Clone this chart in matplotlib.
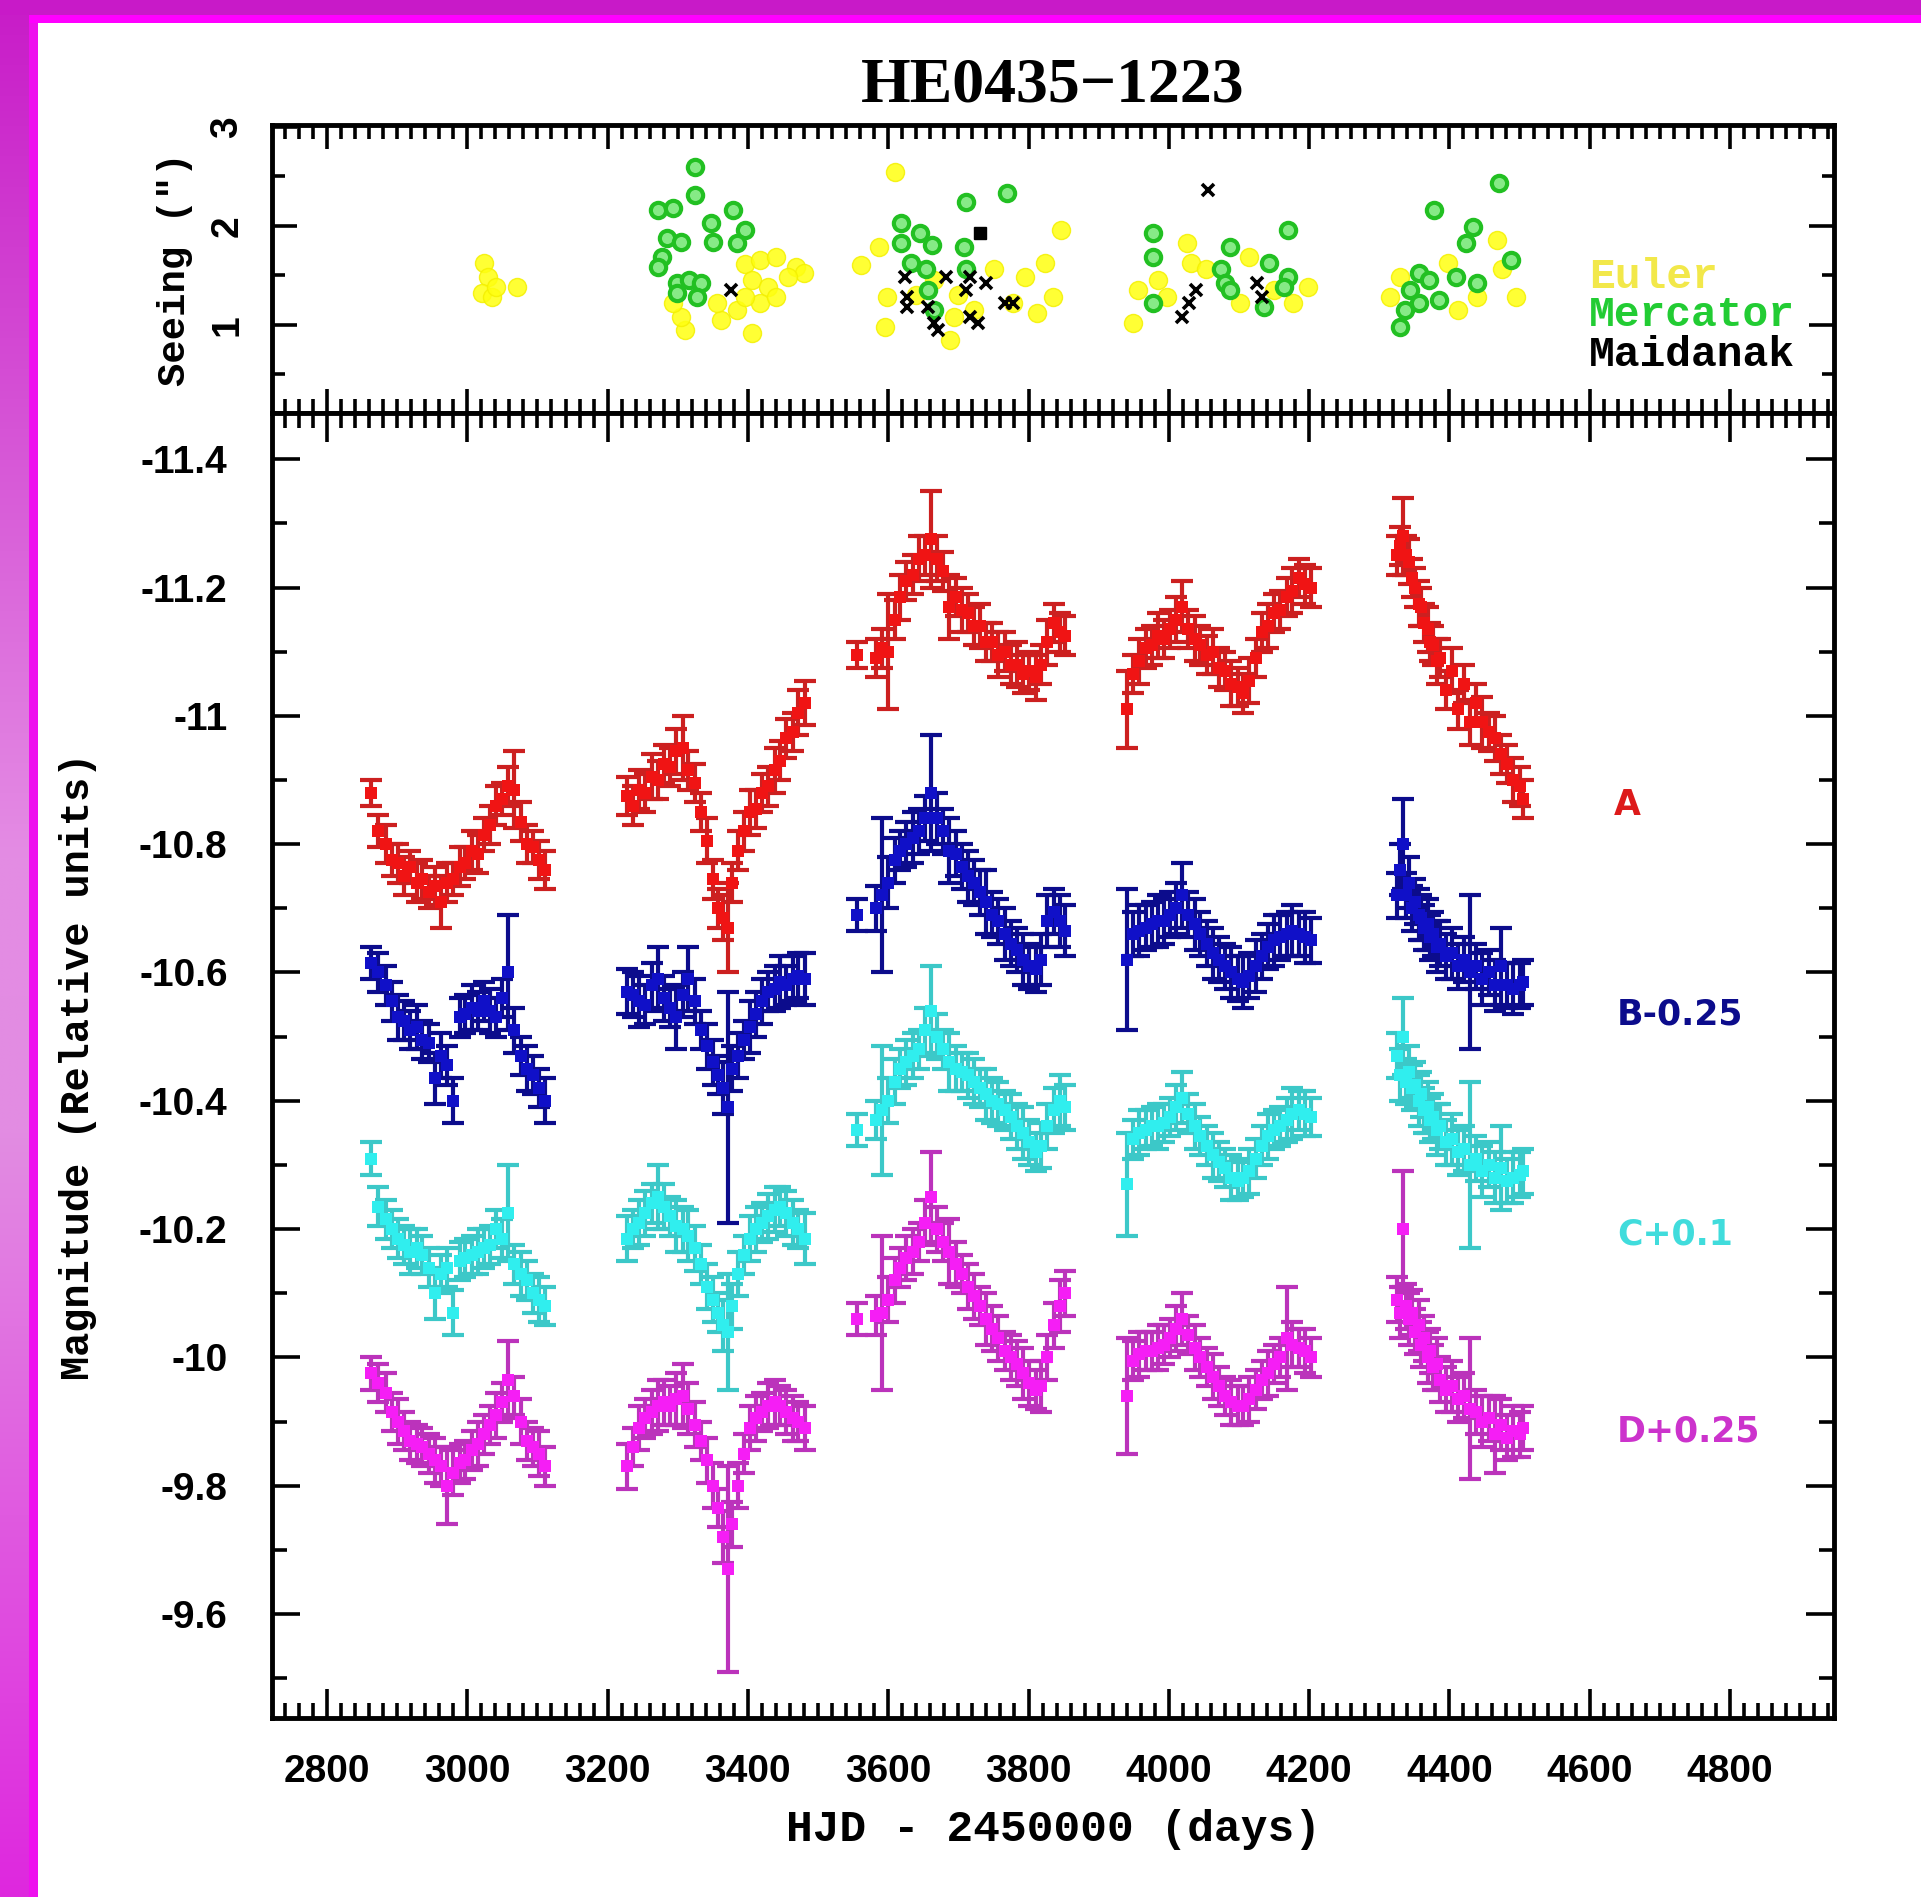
import numpy as np
import matplotlib
matplotlib.use('Agg')
import matplotlib.pyplot as plt
from matplotlib.ticker import MultipleLocator, FuncFormatter
from matplotlib.patches import Rectangle

# ---- light curves (HJD - 2450000), one line per season ----
hjd = [
    2863, 2872, 2884, 2893, 2901, 2910, 2919, 2928, 2936, 2945, 2954, 2962, 2971, 2980, 2989, 2997, 3006, 3015, 3024, 3032, 3041, 3050, 3058, 3067, 3076, 3085, 3094, 3102, 3111,
    3228, 3236, 3245, 3254, 3263, 3272, 3280, 3289, 3298, 3307, 3315, 3324, 3333, 3341, 3350, 3358, 3365, 3371, 3378, 3386, 3394, 3403, 3412, 3420, 3429, 3438, 3446, 3455, 3464, 3472, 3481,
    3556, 3582, 3591, 3600, 3609, 3617, 3626, 3635, 3644, 3652, 3661, 3670, 3678, 3687, 3696, 3705, 3714, 3722, 3731, 3740, 3748, 3757, 3766, 3775, 3783, 3792, 3801, 3810, 3818, 3827, 3836, 3845, 3852,
    3941, 3949, 3958, 3967, 3976, 3984, 3993, 4002, 4010, 4019, 4028, 4037, 4045, 4054, 4063, 4072, 4080, 4089, 4098, 4106, 4115, 4124, 4133, 4141, 4150, 4159, 4168, 4176, 4185, 4194, 4203,
    4325, 4330, 4334, 4338, 4342, 4347, 4351, 4356, 4360, 4364, 4369, 4373, 4377, 4382, 4386, 4395, 4403, 4412, 4421, 4430, 4438, 4447, 4456, 4465, 4473, 4482, 4491, 4500, 4505,
]

mag_A = [
    -10.88, -10.82, -10.80, -10.775, -10.77, -10.75, -10.765, -10.74, -10.745, -10.725, -10.735, -10.71, -10.74, -10.745, -10.765, -10.77, -10.79, -10.785, -10.815, -10.83, -10.86, -10.87, -10.89, -10.885, -10.835, -10.80, -10.795, -10.775, -10.76,
    -10.875, -10.86, -10.885, -10.88, -10.905, -10.90, -10.925, -10.92, -10.945, -10.95, -10.915, -10.895, -10.85, -10.805, -10.745, -10.70, -10.685, -10.67, -10.74, -10.79, -10.82, -10.85, -10.855, -10.88, -10.89, -10.915, -10.93, -10.965, -10.975, -11.005, -11.02,
    -11.095, -11.09, -11.105, -11.10, -11.15, -11.185, -11.21, -11.22, -11.245, -11.25, -11.275, -11.245, -11.225, -11.17, -11.185, -11.165, -11.16, -11.14, -11.14, -11.115, -11.115, -11.095, -11.10, -11.08, -11.08, -11.065, -11.07, -11.06, -11.08, -11.115, -11.145, -11.13, -11.125,
    -11.01, -11.065, -11.085, -11.105, -11.11, -11.125, -11.12, -11.135, -11.15, -11.17, -11.135, -11.12, -11.11, -11.095, -11.10, -11.075, -11.07, -11.05, -11.045, -11.035, -11.055, -11.09, -11.13, -11.14, -11.16, -11.165, -11.185, -11.195, -11.215, -11.205, -11.20,
    -11.25, -11.265, -11.28, -11.25, -11.24, -11.215, -11.20, -11.175, -11.17, -11.145, -11.135, -11.115, -11.11, -11.085, -11.09, -11.04, -11.07, -11.01, -11.05, -10.99, -11.02, -10.99, -10.975, -10.965, -10.94, -10.925, -10.90, -10.89, -10.87,
]
mag_B = [
    -10.615, -10.60, -10.58, -10.555, -10.53, -10.525, -10.51, -10.515, -10.495, -10.49, -10.435, -10.47, -10.455, -10.40, -10.53, -10.535, -10.545, -10.54, -10.555, -10.54, -10.53, -10.56, -10.60, -10.51, -10.47, -10.45, -10.44, -10.42, -10.40,
    -10.57, -10.565, -10.555, -10.55, -10.58, -10.59, -10.56, -10.545, -10.53, -10.565, -10.59, -10.555, -10.51, -10.485, -10.46, -10.44, -10.42, -10.39, -10.45, -10.47, -10.495, -10.515, -10.535, -10.555, -10.57, -10.575, -10.585, -10.58, -10.59, -10.595, -10.59,
    -10.69, -10.70, -10.72, -10.74, -10.775, -10.79, -10.80, -10.81, -10.82, -10.84, -10.88, -10.84, -10.82, -10.79, -10.785, -10.765, -10.75, -10.74, -10.725, -10.71, -10.69, -10.68, -10.66, -10.645, -10.635, -10.62, -10.61, -10.605, -10.62, -10.68, -10.695, -10.68, -10.665,
    -10.62, -10.66, -10.665, -10.67, -10.675, -10.68, -10.68, -10.69, -10.70, -10.72, -10.69, -10.675, -10.66, -10.645, -10.63, -10.62, -10.61, -10.60, -10.59, -10.585, -10.595, -10.61, -10.625, -10.64, -10.65, -10.655, -10.66, -10.665, -10.66, -10.655, -10.65,
    -10.72, -10.76, -10.80, -10.72, -10.74, -10.70, -10.71, -10.69, -10.685, -10.67, -10.675, -10.655, -10.66, -10.64, -10.645, -10.625, -10.63, -10.61, -10.62, -10.60, -10.61, -10.59, -10.60, -10.58, -10.61, -10.58, -10.575, -10.58, -10.585,
]
mag_C = [
    -10.31, -10.235, -10.215, -10.20, -10.185, -10.175, -10.165, -10.17, -10.16, -10.14, -10.10, -10.13, -10.14, -10.07, -10.15, -10.155, -10.16, -10.165, -10.17, -10.175, -10.20, -10.185, -10.225, -10.145, -10.13, -10.12, -10.10, -10.09, -10.08,
    -10.185, -10.20, -10.21, -10.225, -10.24, -10.25, -10.235, -10.22, -10.205, -10.20, -10.19, -10.17, -10.145, -10.11, -10.09, -10.07, -10.05, -10.04, -10.08, -10.13, -10.16, -10.185, -10.20, -10.21, -10.22, -10.23, -10.235, -10.225, -10.21, -10.20, -10.185,
    -10.355, -10.37, -10.385, -10.40, -10.43, -10.45, -10.46, -10.47, -10.48, -10.51, -10.54, -10.50, -10.48, -10.46, -10.45, -10.445, -10.44, -10.43, -10.42, -10.41, -10.40, -10.395, -10.385, -10.375, -10.36, -10.35, -10.335, -10.32, -10.33, -10.36, -10.385, -10.40, -10.39,
    -10.27, -10.34, -10.35, -10.355, -10.36, -10.36, -10.365, -10.375, -10.39, -10.405, -10.38, -10.36, -10.345, -10.33, -10.315, -10.305, -10.295, -10.28, -10.275, -10.28, -10.29, -10.31, -10.33, -10.345, -10.355, -10.36, -10.37, -10.38, -10.385, -10.38, -10.375,
    -10.47, -10.44, -10.50, -10.43, -10.445, -10.42, -10.425, -10.40, -10.41, -10.385, -10.39, -10.37, -10.375, -10.355, -10.36, -10.335, -10.34, -10.32, -10.325, -10.30, -10.31, -10.29, -10.30, -10.28, -10.295, -10.275, -10.28, -10.285, -10.29,
]
mag_D = [
    -9.975, -9.96, -9.945, -9.915, -9.90, -9.885, -9.87, -9.865, -9.86, -9.85, -9.84, -9.83, -9.80, -9.82, -9.835, -9.84, -9.855, -9.865, -9.88, -9.895, -9.91, -9.93, -9.965, -9.94, -9.90, -9.87, -9.86, -9.85, -9.83,
    -9.83, -9.86, -9.89, -9.905, -9.915, -9.925, -9.93, -9.925, -9.935, -9.94, -9.92, -9.895, -9.87, -9.84, -9.80, -9.765, -9.72, -9.67, -9.74, -9.80, -9.85, -9.89, -9.905, -9.915, -9.925, -9.93, -9.925, -9.915, -9.905, -9.90, -9.89,
    -10.06, -10.065, -10.07, -10.09, -10.12, -10.14, -10.155, -10.165, -10.18, -10.21, -10.25, -10.20, -10.18, -10.165, -10.145, -10.13, -10.11, -10.095, -10.08, -10.06, -10.045, -10.03, -10.01, -10.00, -9.99, -9.975, -9.96, -9.95, -9.955, -10.00, -10.05, -10.08, -10.10,
    -9.94, -9.995, -10.005, -10.01, -10.01, -10.015, -10.02, -10.03, -10.045, -10.06, -10.035, -10.015, -10.00, -9.985, -9.97, -9.955, -9.94, -9.93, -9.925, -9.925, -9.935, -9.95, -9.965, -9.975, -9.99, -10.00, -10.03, -10.02, -10.015, -10.01, -10.00,
    -10.09, -10.07, -10.20, -10.08, -10.06, -10.07, -10.04, -10.05, -10.02, -10.03, -10.00, -10.01, -9.985, -9.99, -9.965, -9.95, -9.955, -9.935, -9.94, -9.92, -9.915, -9.90, -9.905, -9.88, -9.895, -9.875, -9.885, -9.88, -9.89,
]

err_A = [
    .02, .025, .03, .025, .03, .03, .025, .03, .03, .025, .03, .04, .03, .025, .03, .025, .03, .03, .025, .03, .03, .025, .03, .06, .03, .03, .025, .03, .03,
    .03, .03, .03, .03, .035, .03, .03, .03, .035, .05, .03, .03, .03, .035, .03, .03, .035, .07, .03, .03, .03, .035, .03, .03, .03, .035, .03, .03, .03, .035, .035,
    .02, .03, .03, .09, .03, .035, .03, .03, .035, .03, .075, .035, .03, .05, .03, .035, .03, .03, .035, .03, .03, .035, .03, .03, .035, .03, .03, .035, .03, .035, .03, .03, .03,
    .06, .03, .035, .03, .03, .035, .03, .03, .035, .04, .03, .035, .03, .03, .035, .03, .03, .035, .03, .03, .035, .03, .03, .035, .03, .03, .03, .035, .03, .03, .03,
    .03, .03, .06, .03, .035, .03, .03, .035, .03, .03, .035, .03, .03, .035, .03, .03, .035, .03, .03, .035, .03, .04, .03, .035, .03, .03, .035, .03, .03,
]
err_B = [
    .025, .03, .03, .03, .035, .03, .03, .035, .03, .03, .04, .035, .03, .035, .03, .03, .035, .03, .03, .035, .03, .03, .09, .035, .03, .035, .03, .03, .035,
    .035, .035, .04, .03, .035, .05, .035, .03, .05, .035, .05, .035, .03, .035, .035, .03, .04, .18, .035, .035, .03, .04, .035, .035, .03, .035, .04, .03, .035, .035, .04,
    .025, .035, .12, .04, .035, .03, .035, .04, .035, .035, .09, .04, .035, .05, .035, .035, .04, .035, .035, .05, .035, .035, .04, .035, .035, .04, .035, .035, .04, .04, .035, .04, .04,
    .11, .035, .04, .035, .035, .04, .035, .035, .04, .05, .035, .04, .035, .035, .04, .035, .035, .04, .035, .04, .035, .04, .035, .035, .04, .035, .035, .04, .035, .04, .035,
    .035, .04, .07, .035, .04, .035, .035, .04, .035, .035, .04, .035, .035, .04, .035, .035, .04, .035, .035, .12, .035, .04, .035, .04, .06, .035, .04, .035, .035,
]
err_C = [
    .025, .03, .03, .03, .03, .03, .035, .03, .03, .03, .04, .03, .03, .035, .03, .03, .03, .035, .03, .03, .03, .03, .075, .03, .035, .03, .03, .035, .03,
    .035, .03, .035, .035, .03, .05, .035, .03, .04, .035, .04, .035, .03, .035, .035, .03, .04, .09, .035, .035, .03, .035, .035, .03, .035, .035, .03, .035, .035, .03, .04,
    .025, .03, .10, .035, .035, .03, .035, .035, .03, .035, .07, .035, .03, .045, .035, .03, .035, .035, .03, .04, .035, .035, .03, .035, .035, .04, .035, .03, .035, .035, .035, .04, .035,
    .08, .03, .035, .03, .03, .035, .03, .03, .035, .04, .03, .035, .03, .03, .035, .03, .03, .035, .03, .03, .035, .03, .03, .035, .03, .03, .035, .04, .03, .035, .03,
    .035, .04, .06, .035, .04, .035, .035, .04, .035, .035, .04, .035, .035, .04, .035, .035, .04, .035, .035, .13, .035, .04, .035, .04, .065, .035, .04, .035, .035,
]
err_D = [
    .025, .03, .03, .03, .035, .03, .03, .03, .03, .03, .035, .03, .06, .035, .03, .03, .03, .035, .03, .03, .035, .03, .06, .03, .035, .03, .03, .035, .03,
    .035, .03, .035, .03, .035, .04, .035, .03, .04, .05, .04, .035, .03, .035, .035, .03, .04, .16, .035, .035, .03, .035, .035, .03, .035, .035, .03, .035, .035, .03, .035,
    .025, .03, .12, .035, .035, .03, .035, .035, .03, .035, .07, .035, .03, .05, .035, .03, .035, .035, .03, .04, .035, .035, .03, .035, .035, .04, .035, .03, .04, .035, .035, .04, .035,
    .09, .03, .035, .03, .03, .035, .03, .03, .035, .04, .03, .035, .03, .03, .035, .03, .03, .035, .03, .03, .035, .03, .03, .035, .03, .03, .08, .035, .03, .035, .03,
    .035, .04, .09, .035, .04, .035, .035, .04, .035, .035, .04, .035, .035, .04, .035, .035, .04, .035, .035, .11, .035, .04, .035, .06, .04, .035, .04, .035, .035,
]

curve_names = ['A', 'B-0.25', 'C+0.1', 'D+0.25']
curve_colors = ['#f01414', '#1010c8', '#30eeee', '#f51ef5']
curve_ecolors = ['#cc2020', '#0c0c8c', '#3cc8c8', '#bb33bb']
label_colors = ['#dd1a1a', '#0c0c8c', '#40dcdc', '#cc33cc']
label_pos = [(4634, -10.861), (4639, -10.535), (4639, -10.191), (4639, -9.885)]

# ---- seeing (arcsec) per telescope ----
euler_t = [3024, 3030, 3021, 3035, 3071, 3041,
           3396, 3417, 3440, 3469, 3480, 3406, 3429, 3417, 3385, 3362, 3406, 3310, 3305, 3293, 3440, 3457, 3396, 3356,
           3610, 3561, 3587, 3598, 3595, 3688, 3694, 3665, 3751, 3795, 3824, 3846, 3835, 3812, 3778, 3722, 3640, 3700,
           3949, 3956, 4026, 4032, 4101, 4115, 4198, 4177, 4053, 3998, 4150, 3985,
           4330, 4398, 4468, 4495, 4439, 4412, 4475, 4315]
euler_s = [1.63, 1.48, 1.32, 1.28, 1.38, 1.38,
           1.62, 1.66, 1.69, 1.59, 1.52, 1.45, 1.38, 1.22, 1.15, 1.05, 0.92, 0.95, 1.08, 1.22, 1.28, 1.48, 1.28, 1.22,
           2.55, 1.61, 1.79, 1.28, 0.98, 0.85, 1.08, 1.45, 1.56, 1.48, 1.63, 1.96, 1.28, 1.12, 1.22, 1.15, 1.30, 1.30,
           1.02, 1.35, 1.83, 1.63, 1.22, 1.69, 1.38, 1.22, 1.56, 1.28, 1.35, 1.45,
           1.48, 1.63, 1.86, 1.28, 1.28, 1.15, 1.56, 1.28]

merc_t = [3324, 3324, 3272, 3293, 3379, 3347, 3396, 3285, 3305, 3350, 3385, 3277, 3272, 3299, 3316, 3333, 3299, 3327,
          3618, 3618, 3645, 3662, 3711, 3769, 3708, 3654, 3657, 3633, 3711, 3665,
          3978, 3978, 3978, 4087, 4074, 4080, 4170, 4143, 4170, 4136, 4087, 4164,
          4471, 4378, 4434, 4423, 4488, 4357, 4344, 4337, 4330, 4385, 4409, 4439, 4371, 4357]
merc_s = [2.60, 2.31, 2.16, 2.18, 2.16, 2.03, 1.96, 1.88, 1.84, 1.84, 1.83, 1.69, 1.59, 1.42, 1.45, 1.42, 1.32, 1.28,
          2.03, 1.83, 1.93, 1.81, 2.24, 2.33, 1.79, 1.56, 1.35, 1.63, 1.56, 1.15,
          1.93, 1.69, 1.22, 1.79, 1.56, 1.42, 1.96, 1.63, 1.48, 1.18, 1.35, 1.38,
          2.43, 2.16, 1.99, 1.83, 1.66, 1.52, 1.35, 1.15, 0.98, 1.25, 1.48, 1.42, 1.45, 1.22]

maid_t = [3376, 3624, 3627, 3627, 3657, 3665, 3671, 3683, 3716, 3739, 3711, 3717, 3728, 3766, 3778,
          4056, 4039, 4019, 4029, 4126, 4133]
maid_s = [1.35, 1.48, 1.28, 1.18, 1.18, 1.02, 0.95, 1.48, 1.48, 1.42, 1.35, 1.08, 1.02, 1.22, 1.22,
          2.36, 1.35, 1.08, 1.22, 1.42, 1.28]
maid_sq_t = [3731]
maid_sq_s = [1.93]

mag_ticks = [-11.4, -11.2, -11.0, -10.8, -10.6, -10.4, -10.2, -10.0, -9.8, -9.6]
seeing_ticks = [1, 2, 3]

W, H = 1921, 1897
fig = plt.figure(figsize=(W / 100, H / 100), dpi=100)
fig.patch.set_facecolor('white')

# magenta page frame (left strip shades lighter toward the middle)
bg = fig.add_axes([0, 0, 1, 1], zorder=-10)
bg.set_xlim(0, W)
bg.set_ylim(H, 0)
bg.axis('off')
rows = np.linspace(0, 1, 200)
stops = [0.0, 0.45, 0.6, 1.0]
reds = np.interp(rows, stops, [200, 228, 226, 222])
greens = np.interp(rows, stops, [28, 140, 140, 40])
blues = np.interp(rows, stops, [200, 228, 226, 222])
strip = np.stack([reds, greens, blues], axis=1)[:, None, :] / 255.0
bg.imshow(strip, extent=(0, 30, H, 0), aspect='auto', interpolation='bilinear')
bg.add_patch(Rectangle((29, 15), 9, H, color='#ee10ee', lw=0))
bg.add_patch(Rectangle((0, 0), W, 15, color='#c81ac8', lw=0))
bg.add_patch(Rectangle((29, 15), W, 8, color='#ff00ff', lw=0))

ax_top = fig.add_axes([272 / W, 1 - 413 / H, 1562 / W, 288 / H])
ax_bot = fig.add_axes([272 / W, 1 - 1718 / H, 1562 / W, 1305 / H])

tick_font = {'family': 'Liberation Sans', 'weight': 'bold', 'size': 28}


def style_axes(ax):
    for sp in ax.spines.values():
        sp.set_linewidth(3.5)
    ax.tick_params(which='both', direction='in', top=True, right=True, width=2.6)
    ax.xaxis.set_major_locator(MultipleLocator(200))
    ax.xaxis.set_minor_locator(MultipleLocator(20))


# ---- seeing panel ----
style_axes(ax_top)
ax_top.plot(euler_t, euler_s, 'o', color='#ffff10', mec='#f4f000', ms=13, alpha=0.85)
ax_top.plot(merc_t, merc_s, 'o', mfc='#86ea86', mec='#22c022', ms=11, mew=3)
ax_top.plot(maid_t, maid_s, 'x', color='black', ms=8, mew=2.6)
ax_top.plot(maid_sq_t, maid_sq_s, 's', color='black', ms=8)
ax_top.set_xlim(2721.6, 4948.2)
ax_top.set_ylim(0.11, 3.02)
ax_top.set_yticks(seeing_ticks)
ax_top.yaxis.set_minor_locator(MultipleLocator(0.5))
ax_top.tick_params(axis='x', which='major', length=17)
ax_top.tick_params(axis='x', which='minor', length=10)
ax_top.tick_params(axis='y', which='major', length=18, pad=19)
ax_top.tick_params(axis='y', which='minor', length=9)
ax_top.tick_params(axis='x', labelbottom=False)
for lab in ax_top.get_yticklabels():
    lab.set_fontproperties(tick_font)
    lab.set_rotation(90)
    lab.set_va('center')
ax_top.set_ylabel('Seeing (")', family='Liberation Mono', weight='bold', fontsize=28, labelpad=12)
ax_top.text(4599, 1.485, 'Euler', color='#f2e84a', family='Liberation Mono', weight='bold',
            fontsize=31, va='center', ha='left')
ax_top.text(4599, 1.10, 'Mercator', color='#22cc33', family='Liberation Mono', weight='bold',
            fontsize=31, va='center', ha='left')
ax_top.text(4599, 0.70, 'Maidanak', color='black', family='Liberation Mono', weight='bold',
            fontsize=31, va='center', ha='left')
ax_top.set_title('HE0435\u22121223', family='Liberation Serif', weight='bold', fontsize=46, pad=17)

# ---- light curve panel ----
style_axes(ax_bot)
mags = [mag_A, mag_B, mag_C, mag_D]
errs = [err_A, err_B, err_C, err_D]
for mag, err, name, col, ecol, lcol, pos in zip(mags, errs, curve_names, curve_colors, curve_ecolors,
                                               label_colors, label_pos):
    ax_bot.errorbar(hjd, mag, yerr=err, fmt='none', ecolor=ecol, elinewidth=3,
                    capsize=8, capthick=3)
    # bright filled points on top, so the dense season runs read as solid bands
    ax_bot.plot(hjd, mag, 's', color=col, ms=9, mew=0)
    ax_bot.text(pos[0], pos[1], name, color=lcol, family='DejaVu Sans',
                weight='bold', fontsize=25, va='center', ha='left')

ax_bot.set_xlim(2721.6, 4948.2)
ax_bot.set_ylim(-9.438, -11.472)
ax_bot.set_yticks(mag_ticks)
ax_bot.yaxis.set_minor_locator(MultipleLocator(0.1))
ax_bot.yaxis.set_major_formatter(FuncFormatter(lambda v, p: '%g' % v))
ax_bot.xaxis.set_major_formatter(FuncFormatter(lambda v, p: '%d' % v))
ax_bot.tick_params(axis='x', which='major', length=21, pad=26)
ax_bot.tick_params(axis='x', which='minor', length=11)
ax_bot.tick_params(axis='y', which='major', length=20, pad=32)
ax_bot.tick_params(axis='y', which='minor', length=11)
for lab in ax_bot.get_xticklabels() + ax_bot.get_yticklabels():
    lab.set_fontproperties(tick_font)

fig.text(1053 / W, 1 - 1830 / H, 'HJD - 2450000 (days)', family='Liberation Mono', weight='bold',
         fontsize=32, ha='center', va='center')
fig.text(78 / W, 1 - 1066 / H, 'Magnitude (Relative units)', family='Liberation Mono', weight='bold',
         fontsize=29, ha='center', va='center', rotation=90)

fig.savefig('out.png', dpi=100)
